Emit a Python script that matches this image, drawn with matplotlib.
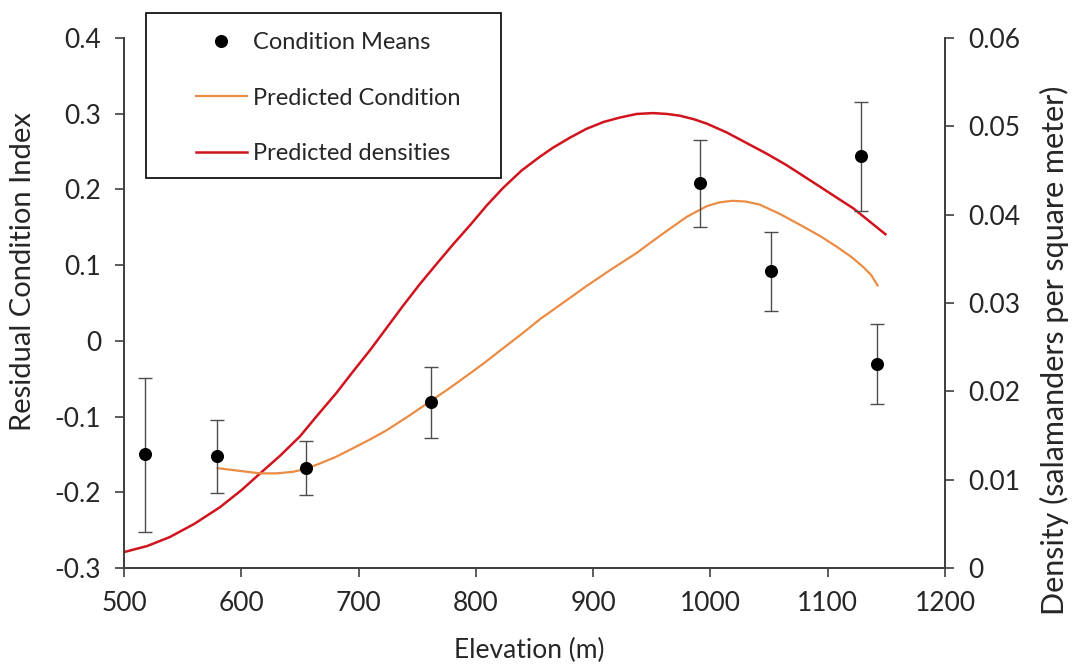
import matplotlib
matplotlib.use("Agg")
import matplotlib.pyplot as plt
from matplotlib.lines import Line2D
from matplotlib.patches import Rectangle

plt.rcParams['font.family'] = ['Lato', 'DejaVu Sans']

# Condition means with error bars
elev_pts = [518, 579, 655, 762, 991, 1052, 1128, 1142]
cond_means = [-0.150, -0.152, -0.168, -0.081, 0.208, 0.092, 0.244, -0.031]
err_upper = [-0.049, -0.104, -0.132, -0.035, 0.265, 0.144, 0.316, 0.022]
err_lower = [-0.252, -0.201, -0.203, -0.128, 0.151, 0.039, 0.171, -0.083]

# Predicted condition (left axis)
cond_elev = [579, 600, 616, 630, 644, 655, 667, 681, 695, 710, 724, 742, 761, 778, 795, 809, 823,
             839, 855, 875, 894, 915, 937, 958, 980, 997, 1008, 1019, 1030, 1042, 1060, 1079,
             1094, 1108, 1120, 1130, 1137, 1143]
cond_pred = [-0.168, -0.172, -0.175, -0.175, -0.173, -0.169, -0.162, -0.153, -0.142, -0.130,
             -0.118, -0.100, -0.080, -0.062, -0.043, -0.027, -0.010, 0.009, 0.029, 0.051,
             0.072, 0.094, 0.116, 0.140, 0.164, 0.178, 0.183, 0.185, 0.184, 0.180, 0.167,
             0.151, 0.138, 0.124, 0.111, 0.098, 0.087, 0.072]

# Predicted densities (right axis)
dens_elev = [500, 520, 539, 560, 582, 600, 616, 633, 650, 665, 681, 695, 710, 724, 738, 752, 767,
             781, 795, 809, 823, 839, 855, 866, 880, 894, 909, 923, 937, 951, 963, 974, 986,
             997, 1014, 1031, 1048, 1065, 1079, 1093, 1108, 1122, 1136, 1150]
dens_pred = [0.0018, 0.0025, 0.0035, 0.0050, 0.0069, 0.0088, 0.0107, 0.0127, 0.0149, 0.0173,
             0.0198, 0.0222, 0.0247, 0.0272, 0.0297, 0.0321, 0.0345, 0.0367, 0.0388, 0.0410,
             0.0430, 0.0450, 0.0466, 0.0476, 0.0487, 0.0497, 0.0505, 0.0510, 0.0514, 0.0515,
             0.0514, 0.0512, 0.0508, 0.0503, 0.0493, 0.0481, 0.0469, 0.0456, 0.0444, 0.0432,
             0.0419, 0.0407, 0.0392, 0.0377]

x_ticks = [500, 600, 700, 800, 900, 1000, 1100, 1200]
y_ticks = [-0.3, -0.2, -0.1, 0, 0.1, 0.2, 0.3, 0.4]
y_tick_labels = ['-0.3', '-0.2', '-0.1', '0', '0.1', '0.2', '0.3', '0.4']
y2_ticks = [0, 0.01, 0.02, 0.03, 0.04, 0.05, 0.06]
y2_tick_labels = ['0', '0.01', '0.02', '0.03', '0.04', '0.05', '0.06']

orange = '#EB8C45'
red = '#D0141E'
spine_c = '#404040'
text_c = '#262626'

W, H = 1072, 666
fig = plt.figure(figsize=(W / 100, H / 100), dpi=100)
L, R, B, T = 124, 945, 568, 38
ax = fig.add_axes([L / W, 1 - B / H, (R - L) / W, (B - T) / H])
ax2 = ax.twinx()

yerr = [[m - lo for m, lo in zip(cond_means, err_lower)],
        [hi - m for m, hi in zip(cond_means, err_upper)]]

ax.plot(cond_elev, cond_pred, color=orange, lw=1.6, zorder=2, solid_capstyle='butt')
ax2.plot(dens_elev, dens_pred, color=red, lw=1.8, zorder=2, solid_capstyle='butt')
ax.errorbar(elev_pts, cond_means, yerr=yerr, fmt='o', color='black', ms=8.4,
            ecolor='#4d4d4d', elinewidth=1.0, capsize=4.7, capthick=1.0, zorder=5)

ax.set_zorder(ax2.get_zorder() + 1)
ax.patch.set_visible(False)

ax.set_xlim(500, 1200)
ax.set_ylim(-0.3, 0.4)
ax2.set_ylim(0, 0.06)
ax.set_xticks(x_ticks)
ax.set_yticks(y_ticks)
ax.set_yticklabels(y_tick_labels)
ax2.set_yticks(y2_ticks)
ax2.set_yticklabels(y2_tick_labels)

for a in (ax, ax2):
    a.spines['top'].set_visible(False)
    for s in ('left', 'right', 'bottom'):
        a.spines[s].set_color(spine_c)
        a.spines[s].set_linewidth(1.3)
    a.tick_params(axis='both', direction='out', length=6.5, width=1.2, color=spine_c,
                  labelsize=19, labelcolor=text_c, pad=10)

ax.set_xlabel('Elevation (m)', fontsize=19, color=text_c, va='center', ha='center')
ax.xaxis.set_label_coords((529 - L) / (R - L), -(650 - B) / (B - T))
ax.set_ylabel('Residual Condition Index', fontsize=21, color=text_c, va='center', ha='center')
ax.yaxis.set_label_coords((23 - L) / (R - L), (B - 272) / (B - T))
ax2.set_ylabel('Density (salamanders per square meter)', fontsize=22, color=text_c,
               va='center', ha='center')
ax2.yaxis.set_label_coords((1054 - L) / (R - L), (B - 350) / (B - T))

# Legend: fixed-size box like the original
frame = Rectangle((146 / W, 1 - 178 / H), (501 - 146) / W, (178 - 13) / H,
                  transform=fig.transFigure, fill=True, facecolor='white',
                  edgecolor='black', lw=1.2, zorder=10)
fig.patches.append(frame)

handles = [
    Line2D([], [], marker='o', color='black', linestyle='none', markersize=8.4),
    Line2D([], [], color=orange, lw=1.6),
    Line2D([], [], color=red, lw=1.8),
]
labels = ['Condition Means', 'Predicted Condition', 'Predicted densities']
leg = fig.legend(handles, labels, loc='upper left', bbox_to_anchor=(196 / W, 1 - 32 / H),
                 fontsize=17, frameon=False, handlelength=2.15, labelspacing=1.47,
                 borderpad=0, handletextpad=0.25, borderaxespad=0)
leg.set_zorder(11)
for t in leg.get_texts():
    t.set_color(text_c)

fig.savefig('out.png', dpi=100)
